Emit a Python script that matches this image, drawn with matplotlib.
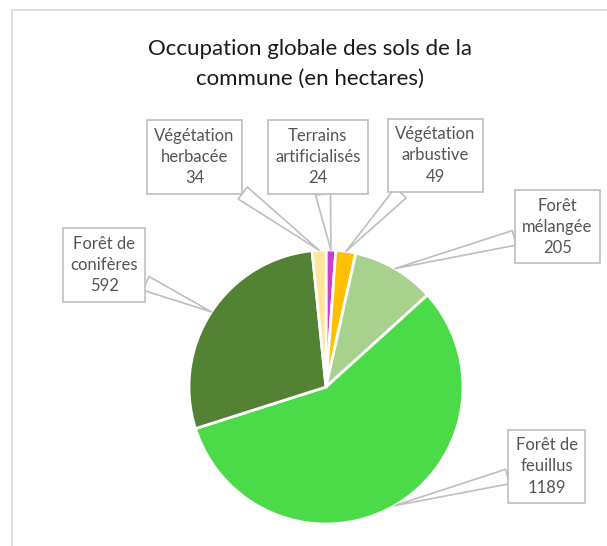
import matplotlib.pyplot as plt
from matplotlib.lines import Line2D
import numpy as np

# data, clockwise from 12 o'clock
categories = ["Terrains\nartificialisés", "Végétation\narbustive",
              "Forêt\nmélangée", "Forêt de\nfeuillus",
              "Forêt de\nconifères", "Végétation\nherbacée"]
hectares = [24, 49, 205, 1189, 592, 34]
colors = ["#CC3FCC", "#FFC000", "#A9D18E", "#4CDB48", "#548235", "#FFE699"]

# label box centres (in pie-radius units)
label_pos = [(-0.06, 1.68), (0.80, 1.69), (1.69, 1.17),
             (1.61, -0.58), (-1.62, 0.89), (-0.96, 1.68)]

plt.rcParams['font.family'] = ['Lato', 'DejaVu Sans']

W, H = 607, 546
fig = plt.figure(figsize=(W / 100, H / 100), dpi=100)

# chart area border (top and left visible)
gray = "#D9D9D9"
fig.add_artist(Line2D([11.5 / W, 11.5 / W], [0, 1 - 9.5 / H],
                      transform=fig.transFigure, color=gray, lw=1.2))
fig.add_artist(Line2D([11.5 / W, 1], [1 - 9.5 / H, 1 - 9.5 / H],
                      transform=fig.transFigure, color=gray, lw=1.2))

cx, cy, r = 326, 387, 137
ax = fig.add_axes([(cx - r) / W, (H - cy - r) / H, 2 * r / W, 2 * r / H])

wedges, _ = ax.pie(hectares, colors=colors, startangle=90, counterclock=False,
                   radius=1.0, wedgeprops=dict(edgecolor="white", linewidth=2))
ax.set_xlim(-1, 1)
ax.set_ylim(-1, 1)
ax.axis("off")

for w, name, val, pos in zip(wedges, categories, hectares, label_pos):
    mid = np.deg2rad((w.theta1 + w.theta2) / 2)
    tip = (np.cos(mid), np.sin(mid))
    ax.annotate(name + "\n" + str(val), xy=tip, xytext=pos,
                ha="center", va="center", multialignment="center",
                fontsize=12, color="#555555",
                linespacing=1.4, annotation_clip=False,
                bbox=dict(boxstyle="square,pad=0.45", fc="white",
                          ec="#BFBFBF", lw=1.2),
                arrowprops=dict(arrowstyle="wedge,tail_width=0.9",
                                fc="white", ec="#BFBFBF", lw=1.2,
                                shrinkA=0, shrinkB=0))

fig.text(310 / W, 1 - 64 / H,
         "Occupation globale des sols de la\ncommune (en hectares)",
         ha="center", va="center", fontsize=16, color="#1a1a1a",
         linespacing=1.6)

plt.savefig("out.png", dpi=100)
